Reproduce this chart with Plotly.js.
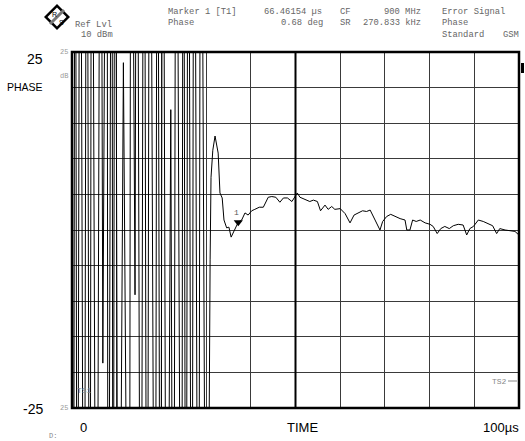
<!DOCTYPE html>
<html><head><meta charset="utf-8">
<script src="https://cdn.plot.ly/plotly-3.0.1.min.js"></script>
<style>html,body{margin:0;padding:0;background:#fff}#c{width:525px;height:441px}</style>
</head><body><div id="c"></div>
<script>
// Time axis (µs) and phase error (deg)
var timeUs = [0, 0.3, 0.7, 1.2, 1.8, 2.7, 3.3, 4.0, 4.4, 5.5, 6.4, 6.9, 7.8, 8.1, 8.9, 9.2, 9.6, 10.4, 11.5, 12.8, 13.2, 14.1, 14.5, 15.4, 16.1, 16.8, 17.4, 18.6, 19.1, 19.8, 20.3, 21.2, 22.1, 22.7, 23.3, 24.5, 24.9, 25.5, 26.0, 26.8, 27.3, 28.3, 28.8, 30.1,
  30.9, 31.1, 31.5, 32.0, 32.7, 33.1, 33.6, 34.0, 34.6, 35.1, 35.6, 36.5, 37.2, 37.96, 38.7, 39.4, 40.2, 40.9, 41.9, 42.8, 43.2, 43.9, 44.7, 45.6, 46.5, 47.3, 48.2, 49.2, 49.7, 50.4, 51.0, 52.1, 53.2, 54.0, 54.9, 55.6, 56.6, 57.3, 58.1, 58.8, 60.0, 61.1, 62.2, 63.1, 64.1, 65.0, 65.9, 66.7, 67.8, 68.9, 69.5, 70.4, 71.3, 72.3, 73.4, 74.5, 74.9, 75.6, 76.2, 77.0, 77.9, 79.0, 80.1, 80.8, 81.7, 82.5, 83.4, 84.4, 85.3, 86.4, 87.5, 88.3, 89.0, 89.8, 90.9, 92.0, 93.1, 94.1, 95.0, 95.7, 96.9, 98.0, 99.1, 99.8];
var phaseDeg = [90, -90, 90, -90, 90, -90, 90, -90, 90, -90, 90, -18.7, 90, -90, 90, -90, 90, -90, 23.5, -90, 90, -9.1, 90, -90, 90, -90, 90, -90, 90, -90, 90, -90, 16.9, -90, 90, -90, 90, -90, 90, -90, 90, -90, 90, -90,
  -4.2, 7.4, 11.2, 13.2, 10.8, 5.2, 4.5, 1.4, 0.3, 0.4, -1.0, 0.3, 1.1, 1.4, 2.4, 2.1, 2.7, 2.9, 3.2, 3.2, 3.8, 4.6, 4.7, 4.6, 3.9, 4.5, 4.5, 4.0, 4.5, 5.2, 4.6, 4.3, 4.0, 4.2, 4.0, 2.7, 3.5, 2.9, 3.3, 2.9, 3.0, 2.3, 1.0, 2.1, 2.4, 2.7, 2.6, 2.8, 1.4, 0.0, 1.2, 1.9, 2.2, 1.9, 1.6, 1.4, 0.0, 0.0, 1.4, 1.2, 1.4, 1.0, 0.8, 0.5, -0.5, 0.2, 0.5, 0.2, 0.6, 0.8, 0.7, -0.7, 0.2, 0.5, 1.4, 1.2, 0.9, 0.6, -0.5, 0.2, 0.0, -0.1, -0.2, -0.6];
var markerTime = [37.2];
var markerPhase = [1.1];
var yLabels = ["25", "-25"];
var xLabels = ["0", "TIME", "100µs"];

// pixel -> paper helpers (plot area 72..519 x 52..408)
function PX(x){return (x-72)/447;}
function PY(y){return (408-y)/356;}
var mono = {family:"Liberation Mono, DejaVu Sans Mono, monospace", size:8.8, color:"#666"};
var sans = {family:"Liberation Sans, Arial, sans-serif", size:13, color:"#000"};
function txt(s,x,y,font,xa){return {text:s,x:PX(x),y:PY(y),xref:"paper",yref:"paper",showarrow:false,font:font,xanchor:xa||"left",yanchor:"middle"};}

var ann = [
  txt("Ref Lvl",73,25,mono), txt("10 dBm",79,35,mono),
  txt("Marker 1 [T1]",166,12,mono), txt("Phase",166,23,mono),
  txt("66.46154 µs",262,12,mono), txt("0.68 deg",279,23,mono),
  txt("CF",338,12,mono), txt("SR",338,23,mono),
  txt("900 MHz",423,12,mono,"right"), txt("270.833 kHz",423,23,mono,"right"),
  txt("Error Signal",440,12,mono), txt("Phase",440,23,mono), txt("Standard",440,35,mono),
  txt("GSM",521,35,mono,"right"),
  txt(yLabels[0],45,59,{family:sans.family,size:14,color:"#000"},"right"),
  txt("PHASE",45,87,{family:sans.family,size:10.5,color:"#000"},"right"),
  txt(yLabels[1],45,409,{family:sans.family,size:14,color:"#000"},"right"),
  txt(xLabels[0],83,428,sans,"center"),
  txt(xLabels[1],302,428,sans,"center"),
  txt(xLabels[2],521,428,sans,"right"),
  txt("25",70,52,{family:mono.family,size:7,color:"#999"},"right"),
  txt("dB",70,76,{family:mono.family,size:7,color:"#999"},"right"),
  txt("25",70,408,{family:mono.family,size:7,color:"#999"},"right"),
  txt("TS1",75,390,{family:mono.family,size:8,color:"#888"}),
  txt("TS2",490,381,{family:mono.family,size:8,color:"#888"}),
  txt("D:",47,436,{family:mono.family,size:7,color:"#888"}),
  txt("R",54.5,14.5,{family:sans.family,size:7,color:"#000"},"center"),
  txt("S",61,22.5,{family:sans.family,size:7,color:"#000"},"center"),
  {text:"1",x:markerTime[0],y:markerPhase[0],xref:"x",yref:"y",showarrow:false,font:{family:mono.family,size:8,color:"#555"},xshift:-2,yshift:10}
];

function path(pts){return "M"+pts.map(function(p){return PX(p[0])+","+PY(p[1]);}).join(" L")+" Z";}
var shapes = [
  {type:"line",xref:"x",yref:"paper",x0:50,x1:50,y0:0,y1:1,line:{color:"#000",width:2}},
  {type:"rect",xref:"paper",yref:"paper",x0:0,x1:1,y0:0,y1:1,line:{color:"#000",width:2.5}},
  {type:"path",xref:"paper",yref:"paper",path:path([[57,4],[70,17],[57,30],[44,17]]),fillcolor:"#000",line:{width:0},layer:"below"},
  {type:"path",xref:"paper",yref:"paper",path:path([[57,7.5],[66.5,17],[57,26.5],[47.5,17]]),fillcolor:"#fff",line:{width:0},layer:"below"},
  {type:"line",xref:"paper",yref:"paper",x0:PX(50),y0:PY(24),x1:PX(64),y1:PY(10),line:{color:"#777",width:3},layer:"below"},
  {type:"line",xref:"paper",yref:"paper",x0:PX(508),y0:PY(381),x1:PX(517),y1:PY(381),line:{color:"#888",width:1}},
  {type:"rect",xref:"paper",yref:"paper",x0:PX(521),x1:PX(524),y0:PY(63),y1:PY(73),fillcolor:"#000",line:{width:0}}
];

var traces = [
  {x:timeUs,y:phaseDeg,type:"scatter",mode:"lines",line:{color:"#000",width:1},hoverinfo:"skip"},
  {x:markerTime,y:markerPhase,type:"scatter",mode:"markers",marker:{symbol:"triangle-down",size:8,color:"#000"},hoverinfo:"skip"}
];
var layout = {
  width:525,height:441,margin:{l:72,r:6,t:52,b:33},
  paper_bgcolor:"#fff",plot_bgcolor:"#fff",showlegend:false,
  xaxis:{range:[0,100],dtick:10,tick0:0,showgrid:true,gridcolor:"#3a3a3a",gridwidth:1,zeroline:false,showticklabels:false,ticks:"",showline:false},
  yaxis:{range:[-25,25],dtick:5,tick0:-25,showgrid:true,gridcolor:"#3a3a3a",gridwidth:1,zeroline:false,showticklabels:false,ticks:"",showline:false},
  annotations:ann,shapes:shapes
};
Plotly.newPlot("c",traces,layout,{staticPlot:true,displayModeBar:false});
</script></body></html>
